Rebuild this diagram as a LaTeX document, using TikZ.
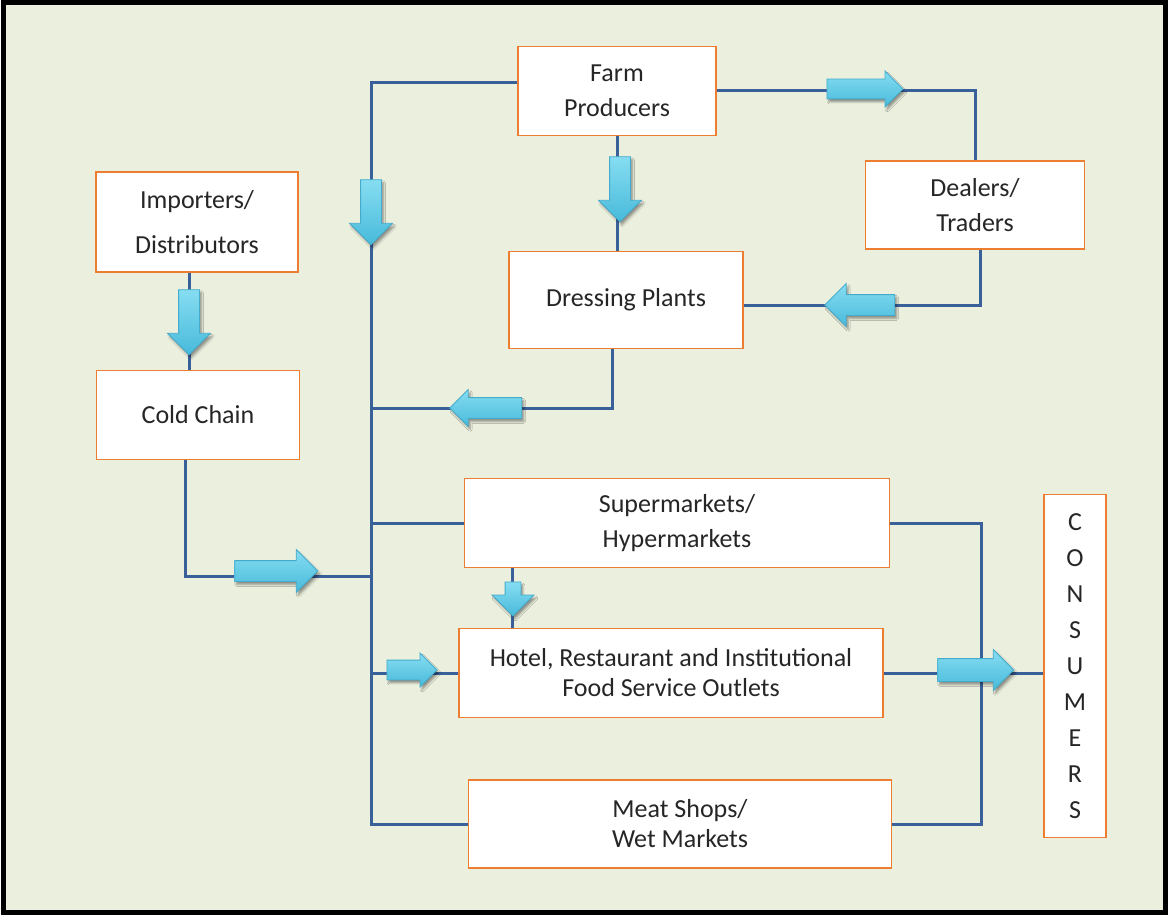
\documentclass[tikz,border=0pt]{standalone}
\usepackage{fontspec}
\setmainfont{Carlito}
\usetikzlibrary{shapes.arrows,shadows.blur,positioning}

\definecolor{panelbg}{HTML}{EBEFDD}
\definecolor{boxline}{HTML}{ED7D31}
\definecolor{flowline}{HTML}{3A609A}
\definecolor{arrowtop}{HTML}{86DDF1}
\definecolor{arrowbot}{HTML}{48BADB}
\definecolor{arrowedge}{HTML}{45ABCC}

\tikzset{
  box/.style={draw=boxline, fill=white, line width=1.5pt, inner sep=0pt,
    align=center, text=black!85, font=\fontsize{26}{35}\selectfont},
  flow/.style={draw=flowline, line width=3pt},
  blockarrow/.style={single arrow, draw=arrowedge, line width=0.8pt,
    top color=arrowtop, bottom color=arrowbot, inner sep=0pt,
    text height=20pt, text depth=0pt, single arrow head extend=11pt,
    minimum height=#1,
    blur shadow={shadow xshift=2pt, shadow yshift=-3pt, shadow blur steps=6}},
  blockarrow/.default=66pt,
}

\begin{document}
\begin{tikzpicture}[x=1pt,y=-1pt]

	\useasboundingbox (0,0) rectangle (1168,915);
	\draw[fill=panelbg, line width=5pt] (3,3) rectangle (1165,912);

	% boxes
	\node[box, minimum width=198pt, minimum height=89pt] (farm) at (617,91) {Farm\\Producers};
	\node[box, minimum width=202pt, minimum height=100pt] (importers) at (197,222) {Importers/\\[10pt]Distributors};
	\node[box, minimum width=219pt, minimum height=88pt] (dealers) at (975,205) {Dealers/\\Traders};
	\node[box, minimum width=234pt, minimum height=97pt] (dressing) at (626,300) {Dressing Plants};
	\node[box, minimum width=203pt, minimum height=89pt] (cold) at (198,415) {Cold Chain};
	\node[box, minimum width=425pt, minimum height=89pt] (super) at (677,523) {Supermarkets/\\Hypermarkets};
	\node[box, minimum width=424pt, minimum height=89pt, font=\fontsize{26}{30}\selectfont] (hotel) at (671,673) {Hotel, Restaurant and Institutional\\Food Service Outlets};
	\node[box, minimum width=423pt, minimum height=88pt, font=\fontsize{26}{30}\selectfont] (meat) at (680,824) {Meat Shops/\\Wet Markets};
	\node[box, minimum width=62pt, minimum height=343pt, font=\fontsize{26}{36}\selectfont] (consumers) at (1075,666) {C\\O\\N\\S\\U\\M\\E\\R\\S};

	% junctions
	\coordinate (trunktop) at (371,83);
	\coordinate (trunkbot) at (trunktop |- meat.west);
	\coordinate (jdress) at (371,408);
	\coordinate (jcold) at (371,576);
	\coordinate (busx) at (981,0);
	\coordinate (busbot) at (busx |- meat.east);

	% connectors
	\draw[flow] ([yshift=8pt]farm.west) -- (trunktop) -- (trunkbot) -- (meat.west);
	\draw[flow] (farm.east) -| (dealers.north);
	\draw[flow] ([xshift=5pt]dealers.south) |- ([yshift=-5pt]dressing.east);
	\draw[flow] (farm.south) -- (farm.south |- dressing.north);
	\draw[flow] ([xshift=-14pt]dressing.south) |- (jdress);
	\draw[flow] ([xshift=-8pt]importers.south) -- ([xshift=-8pt]importers.south |- cold.north);
	\draw[flow] ([xshift=-13pt]cold.south) |- (jcold);
	\draw[flow] (super.west -| trunktop) -- (super.west);
	\draw[flow] (hotel.west -| trunktop) -- (hotel.west);
	\draw[flow] ([xshift=-165pt]super.south) -- ([xshift=-165pt]super.south |- hotel.north);
	\draw[flow] (super.east) -| (busbot) -- (meat.east);
	\draw[flow] (hotel.east) -- (hotel.east -| consumers.west);

	% block arrows
	\node[blockarrow=76pt, text height=19pt, single arrow head extend=8pt] (afarmdeal) at (860,89) {};
	\node[blockarrow=65pt, rotate=-90] (atrunk) at (371,207) {};
	\node[blockarrow=65pt, rotate=-90] (afarmdress) at (620,184) {};
	\node[blockarrow=65pt, rotate=-90] (aimpcold) at (189,317) {};
	\node[blockarrow=70pt, rotate=180] (adealdress) at (865,305) {};
	\node[blockarrow=72pt, rotate=180, single arrow head extend=8pt] (adresstrunk) at (491,408) {};
	\node[blockarrow=83pt] (acoldtrunk) at (271,571) {};
	\node[blockarrow=34pt, rotate=-90, text height=15pt, single arrow head extend=13pt] (asuperhotel) at (513,595) {};
	\node[blockarrow=50pt, text height=19pt, single arrow head extend=7pt] (atrunkhotel) at (407,670) {};
	\node[blockarrow=76pt, text height=22pt, single arrow head extend=9pt] (ahotelcons) at (970,670) {};

\end{tikzpicture}
\end{document}
